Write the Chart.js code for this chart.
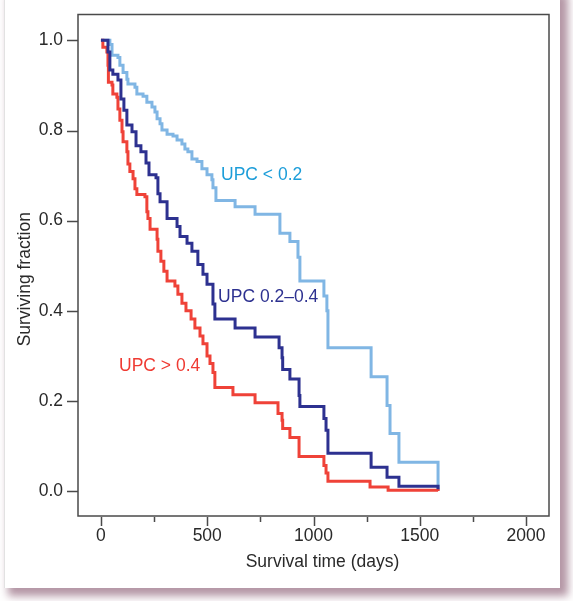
<!DOCTYPE html>
<html lang="en">
<head>
<meta charset="UTF-8">
<title>Surviving fraction by UPC</title>
<script src="https://cdn.jsdelivr.net/npm/chart.js"></script>
<style>
    html, body {
        margin: 0;
        padding: 0;
        background: #fff;
    }
    body {
        width: 573px;
        height: 601px;
        position: relative;
        overflow: hidden;
    }
    .card {
        position: absolute;
        left: 4px;
        top: -10px;
        width: 555px;
        height: 598px;
        background: #fff;
        border-left: 1px solid #e2e2e2;
        box-shadow: 6px 6px 8px 2px rgba(130, 80, 105, 0.6);
    }
    .chart-box {
        position: absolute;
        left: 0;
        top: 0;
        width: 573px;
        height: 601px;
    }
</style>
</head>
<body>
<div class="card"></div>
<div class="chart-box"><canvas id="survChart"></canvas></div>

<script>
    // Kaplan-Meier steps (days, surviving fraction)
    const lowDays = [0, 42, 52, 80, 89, 104, 122, 127, 160, 169, 198, 216, 240, 254, 264, 278, 287, 311, 339, 358, 381, 395, 409, 428, 452, 475, 499, 522, 527, 541, 631, 725, 842, 889, 927, 936, 1049, 1063, 1068, 1271, 1346, 1360, 1402, 1586];
    const lowSurv = [1.0, 0.991, 0.967, 0.962, 0.945, 0.929, 0.914, 0.903, 0.896, 0.881, 0.876, 0.863, 0.852, 0.841, 0.826, 0.815, 0.801, 0.792, 0.788, 0.779, 0.770, 0.759, 0.753, 0.737, 0.731, 0.715, 0.702, 0.691, 0.673, 0.645, 0.631, 0.614, 0.572, 0.554, 0.519, 0.466, 0.433, 0.400, 0.318, 0.254, 0.190, 0.128, 0.064, 0.0];

    const midDays = [0, 33, 42, 56, 80, 94, 108, 122, 146, 165, 188, 212, 226, 259, 268, 278, 311, 358, 372, 405, 428, 456, 480, 499, 527, 536, 631, 725, 838, 852, 855, 889, 932, 936, 1049, 1059, 1068, 1271, 1346, 1402, 1586];
    const midSurv = [1.0, 0.974, 0.934, 0.925, 0.912, 0.870, 0.845, 0.812, 0.797, 0.766, 0.753, 0.728, 0.702, 0.695, 0.660, 0.642, 0.605, 0.587, 0.565, 0.550, 0.532, 0.503, 0.481, 0.459, 0.415, 0.382, 0.362, 0.342, 0.318, 0.296, 0.270, 0.249, 0.212, 0.188, 0.161, 0.135, 0.084, 0.053, 0.031, 0.011, 0.004];

    const highDays = [0, 9, 28, 33, 35, 52, 56, 75, 80, 89, 99, 104, 122, 127, 136, 151, 160, 169, 207, 216, 221, 231, 264, 268, 282, 296, 311, 348, 362, 381, 400, 424, 442, 466, 480, 499, 513, 527, 536, 621, 725, 833, 852, 855, 889, 932, 1049, 1059, 1068, 1266, 1351, 1586];
    const highSurv = [1.0, 0.985, 0.974, 0.945, 0.907, 0.901, 0.881, 0.874, 0.848, 0.823, 0.797, 0.775, 0.753, 0.726, 0.709, 0.693, 0.671, 0.658, 0.653, 0.620, 0.605, 0.581, 0.559, 0.532, 0.510, 0.488, 0.466, 0.455, 0.437, 0.417, 0.400, 0.382, 0.362, 0.344, 0.327, 0.300, 0.283, 0.263, 0.230, 0.214, 0.196, 0.172, 0.157, 0.139, 0.119, 0.077, 0.057, 0.040, 0.022, 0.009, 0.002, 0.0];

    const groupNames = ['UPC < 0.2', 'UPC 0.2\u20130.4', 'UPC > 0.4'];
    // where each group name sits, in data units (days, fraction)
    const labelDays = [565, 551, 85];
    const labelSurv = [0.70, 0.43, 0.278];

    const yTicks = [0, 0.2, 0.4, 0.6, 0.8, 1.0];
    const xTicks = [0, 500, 1000, 1500, 2000];
    const xMinor = [250, 750, 1250, 1750];

    const lineColors = ['#80b6e4', '#2d3190', '#ef4238'];
    const textColors = ['#1c9dd9', '#2d3190', '#ef3a32'];
    const FONT = '"Liberation Sans", Arial, Helvetica, sans-serif';

    function toPoints(days, surv) {
        return days.map((d, i) => ({ x: d, y: surv[i] }));
    }

    // box, tick marks, axis titles and group labels
    const framePlugin = {
        id: 'frame',
        afterDraw(chart) {
            const { ctx, chartArea: a, scales: { x, y } } = chart;
            ctx.save();
            ctx.strokeStyle = '#4a4a4a';
            ctx.lineWidth = 1.5;
            ctx.strokeRect(a.left, a.top, a.right - a.left, a.bottom - a.top);

            ctx.beginPath();
            yTicks.forEach(v => {
                const p = Math.round(y.getPixelForValue(v)) + 0.5;
                ctx.moveTo(a.left - 11, p);
                ctx.lineTo(a.left, p);
            });
            xTicks.forEach(v => {
                const p = Math.round(x.getPixelForValue(v)) + 0.5;
                ctx.moveTo(p, a.bottom + 1);
                ctx.lineTo(p, a.bottom + 10);
            });
            xMinor.forEach(v => {
                const p = Math.round(x.getPixelForValue(v)) + 0.5;
                ctx.moveTo(p, a.bottom + 1);
                ctx.lineTo(p, a.bottom + 6);
            });
            ctx.stroke();

            ctx.fillStyle = '#2a2a2a';
            ctx.font = '17.5px ' + FONT;
            ctx.textAlign = 'center';
            ctx.textBaseline = 'middle';
            ctx.fillText('Survival time (days)', (a.left + a.right) / 2 + 9, 562);
            ctx.translate(25, (a.top + a.bottom) / 2 + 14);
            ctx.rotate(-Math.PI / 2);
            ctx.fillText('Surviving fraction', 0, 0);
            ctx.restore();

            ctx.save();
            ctx.font = '17.5px ' + FONT;
            ctx.textAlign = 'left';
            ctx.textBaseline = 'middle';
            groupNames.forEach((name, i) => {
                ctx.fillStyle = textColors[i];
                ctx.fillText(name, x.getPixelForValue(labelDays[i]), y.getPixelForValue(labelSurv[i]));
            });
            ctx.restore();
        }
    };

    const series = [
        { days: lowDays, surv: lowSurv },
        { days: midDays, surv: midSurv },
        { days: highDays, surv: highSurv }
    ];

    new Chart(document.getElementById('survChart'), {
        type: 'line',
        data: {
            datasets: series.map((s, i) => ({
                label: groupNames[i],
                data: toPoints(s.days, s.surv),
                borderColor: lineColors[i],
                borderWidth: 3,
                stepped: 'before',
                pointRadius: 0,
                fill: false,
                order: i === 0 ? 2 : (i === 1 ? 0 : 1)
            }))
        },
        options: {
            responsive: true,
            maintainAspectRatio: false,
            animation: false,
            layout: { padding: { left: 0, top: 12, right: 24, bottom: 0 } },
            plugins: {
                legend: { display: false },
                tooltip: { enabled: false }
            },
            scales: {
                x: {
                    type: 'linear',
                    min: -108,
                    max: 2108,
                    afterBuildTicks: sc => { sc.ticks = xTicks.map(v => ({ value: v })); },
                    afterFit: sc => { sc.height = 85; },
                    grid: { display: false, drawTicks: true, tickLength: 10 },
                    border: { display: false },
                    ticks: {
                        color: '#2a2a2a',
                        font: { family: FONT, size: 17.5 },
                        padding: 0,
                        maxRotation: 0,
                        callback: v => String(v)
                    }
                },
                y: {
                    type: 'linear',
                    min: -0.0552,
                    max: 1.0574,
                    afterBuildTicks: sc => { sc.ticks = yTicks.map(v => ({ value: v })); },
                    afterFit: sc => { sc.width = 78; },
                    grid: { display: false, drawTicks: true, tickLength: 11 },
                    border: { display: false },
                    ticks: {
                        color: '#2a2a2a',
                        font: { family: FONT, size: 17.5 },
                        padding: 4,
                        callback: v => v.toFixed(1)
                    }
                }
            }
        },
        plugins: [framePlugin]
    });
</script>
</body>
</html>
